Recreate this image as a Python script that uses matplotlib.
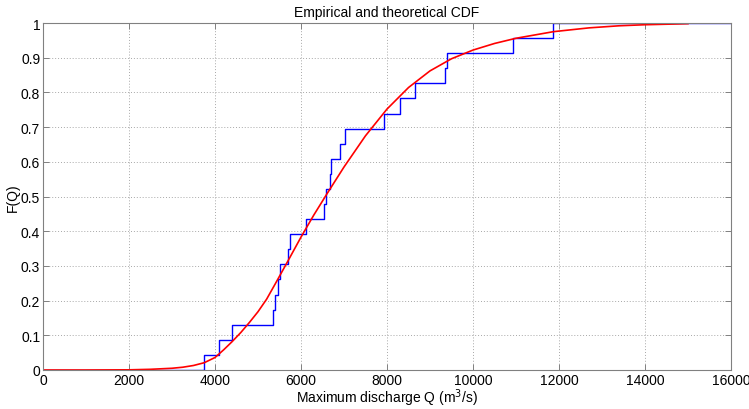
import matplotlib
matplotlib.use("Agg")
import matplotlib.pyplot as plt

# Empirical sample (sorted maximum discharges, m^3/s)
sample_q = [3746, 4095, 4405, 5349, 5388, 5465, 5520, 5690, 5745, 6115,
            6533, 6588, 6665, 6688, 6900, 7013, 7930, 8291, 8650, 9352,
            9389, 10922, 11867]

# Theoretical CDF, points
theo_q = [0, 1000, 2000, 2500, 3000, 3250, 3500, 3750, 4000, 4200, 4400,
          4600, 4800, 5000, 5200, 5400, 5700, 6000, 6300, 6600, 7000, 7500,
          8000, 8500, 9000, 9500, 10000, 10500, 11000, 11870, 12700, 13400,
          14000, 15000]
theo_f = [0.0, 0.0, 0.0005, 0.002, 0.005, 0.008, 0.013, 0.021, 0.036, 0.058,
          0.082, 0.108, 0.137, 0.168, 0.204, 0.248, 0.315, 0.383, 0.447,
          0.507, 0.585, 0.675, 0.752, 0.814, 0.862, 0.897, 0.922, 0.941,
          0.956, 0.975, 0.986, 0.992, 0.995, 0.998]

x_ticks = [0, 2000, 4000, 6000, 8000, 10000, 12000, 14000, 16000]
y_ticks = [0, 0.1, 0.2, 0.3, 0.4, 0.5, 0.6, 0.7, 0.8, 0.9, 1]
y_ticklabels = ["0", "0.1", "0.2", "0.3", "0.4", "0.5", "0.6", "0.7", "0.8", "0.9", "1"]

plt.rcParams['font.family'] = ['Liberation Sans', 'DejaVu Sans']

fig = plt.figure(figsize=(7.49, 4.10), dpi=100)
ax = fig.add_axes([43/749, 39/410, (731-43)/749, (371-24)/410])

n = len(sample_q)
xs = [-1000] + sample_q + [20000]
ys = [0.0] + [(i + 1) / n for i in range(n)] + [1.0]
ax.step(xs, ys, where='post', color=(0, 0, 1), lw=1.0, zorder=2)
ax.plot(theo_q, theo_f, color=(1, 0, 0), lw=1.2, zorder=3)

ax.set_xlim(0, 16000)
ax.set_ylim(0, 1)
ax.set_xticks(x_ticks)
ax.set_xticklabels([str(t) for t in x_ticks])
ax.set_yticks(y_ticks)
ax.set_yticklabels(y_ticklabels)
ax.grid(True, linestyle=(0, (1, 2)), color='#a8a8a8', lw=0.7)
ax.tick_params(direction='in', length=4, width=0.7, colors='#808080',
               labelcolor='black', labelsize=10, top=True, right=True, pad=2)
for s in ax.spines.values():
    s.set_color('#808080')
    s.set_linewidth(0.8)
    s.set_zorder(4)

ax.set_title("Empirical and theoretical CDF", fontsize=10, pad=5)
ax.set_xlabel("Maximum discharge Q (m$^3$/s)", fontsize=10, labelpad=0)
ax.set_ylabel("F(Q)", fontsize=10, labelpad=1)

fig.savefig("out.png", dpi=100)
